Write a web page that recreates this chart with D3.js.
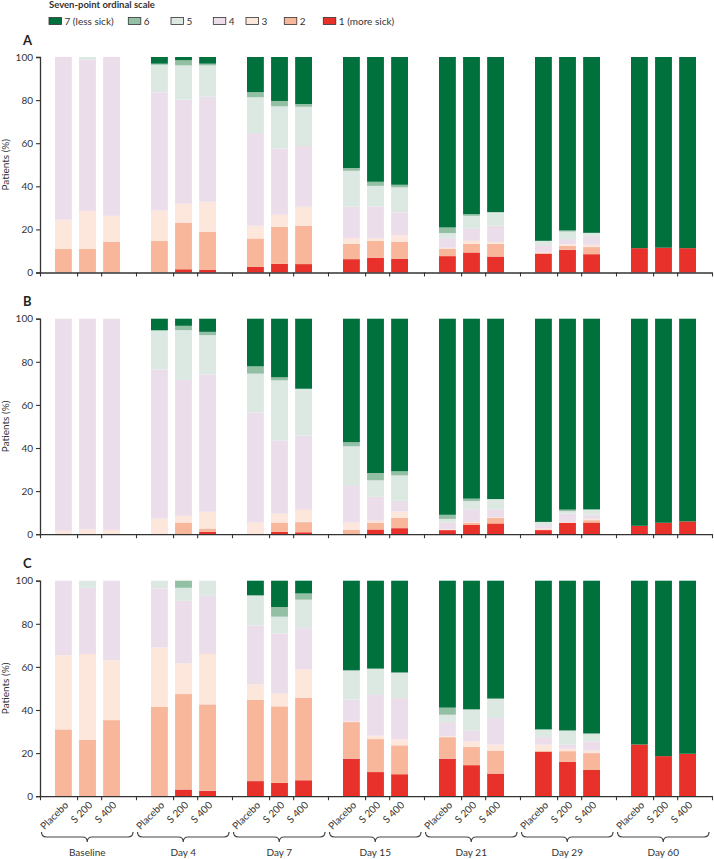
<!DOCTYPE html>
<html>
<head>
<meta charset="utf-8">
<script src="https://cdn.jsdelivr.net/npm/d3@7"></script>
<style>
  body { margin: 0; background: #fff; }
  svg { display: block; }
</style>
</head>
<body>
<script>
// time points and arms
var groups = ["Baseline", "Day 4", "Day 7", "Day 15", "Day 21", "Day 29", "Day 60"];
var treatments = ["Placebo", "S 200", "S 400"];

// ordinal scale, bottom (1) to top (7)
var levelNames = ["1 (more sick)", "2", "3", "4", "5", "6", "7 (less sick)"];
var levelColors = ["#e8312b", "#f8b69b", "#fde6db", "#ebdeea", "#dce8e2", "#93bfa5", "#00703c"];

// % of patients per level [1..7], bars in order group x treatment
var panelA = [
  [0, 11, 13.5, 75.5, 0, 0, 0],
  [0, 11, 17.6, 70.2, 1.2, 0, 0],
  [0, 14.2, 12.1, 73.7, 0, 0, 0],
  [0, 14.7, 14.1, 54.8, 12.8, 0.5, 3.1],
  [1.5, 21.6, 8.8, 48.3, 15.9, 2.4, 1.5],
  [1.2, 17.7, 13.9, 48.8, 14.5, 0.8, 3.1],
  [2.6, 13.2, 5.9, 43, 16.6, 2.4, 16.3],
  [4, 17.2, 5.6, 30.8, 19.5, 2.5, 20.4],
  [3.9, 17.8, 8.8, 28.2, 18.2, 1.3, 21.8],
  [6.2, 7.1, 2.6, 14.6, 16.7, 1.3, 51.5],
  [6.8, 7.9, 1.2, 14.8, 9.5, 1.9, 57.9],
  [6.3, 7.9, 3.1, 10.6, 11.6, 1.2, 59.3],
  [7.6, 3.5, 0.4, 4.4, 2.4, 2.6, 79.1],
  [9.3, 4, 1.4, 5.6, 6, 0.8, 72.9],
  [7.4, 5.9, 0.8, 7.6, 6.3, 0, 72],
  [8.7, 0.3, 0.5, 3.3, 1.9, 0, 85.3],
  [10.5, 1.9, 0.6, 2.5, 3.5, 0.5, 80.5],
  [8.5, 3.3, 1, 4.1, 1.5, 0, 81.6],
  [11.3, 0, 0, 0, 0, 0, 88.7],
  [11.5, 0, 0, 0, 0, 0, 88.5],
  [11.3, 0, 0, 0, 0, 0, 88.7]
];

var panelB = [
  [0, 0, 1.6, 98.4, 0, 0, 0],
  [0, 0, 2.2, 97.8, 0, 0, 0],
  [0, 0, 2, 98, 0, 0, 0],
  [0, 0, 7.3, 69.1, 18, 0.3, 5.3],
  [0, 5.4, 3.1, 63.1, 23.1, 2, 3.3],
  [1.1, 1.5, 7.8, 63.8, 18.2, 1.5, 6.1],
  [0, 0, 5.4, 51, 18.1, 3.4, 22.1],
  [1.1, 4.3, 4.1, 34, 27.9, 1.4, 27.2],
  [0.9, 4.7, 5.7, 34.4, 21.8, 0, 32.5],
  [0, 2, 3.4, 17, 18.4, 1.9, 57.3],
  [2.2, 3.2, 0.8, 11.2, 7.6, 3.4, 71.6],
  [2.8, 4.8, 3, 4.9, 11.8, 1.9, 70.8],
  [1.9, 0, 0.3, 3.1, 1.8, 1.9, 91],
  [4.3, 1, 0.3, 6, 3.8, 1.1, 83.5],
  [5, 2.5, 0.4, 3.7, 4.7, 0, 83.7],
  [1.9, 0.3, 0.4, 1.6, 1.5, 0, 94.3],
  [5.3, 0, 0.3, 3.9, 1.2, 0.7, 88.6],
  [5.4, 1.1, 0.6, 2.1, 2.3, 0, 88.5],
  [3.9, 0, 0, 0, 0, 0, 96.1],
  [5.3, 0, 0, 0, 0, 0, 94.7],
  [5.9, 0, 0, 0, 0, 0, 94.1]
];

var panelC = [
  [0, 31, 34.4, 34.6, 0, 0, 0],
  [0, 26.2, 39.8, 30.7, 3.3, 0, 0],
  [0, 35.3, 27.8, 36.9, 0, 0, 0],
  [0, 41.4, 27.6, 27.4, 3.6, 0, 0],
  [3.1, 44.3, 14.2, 29.1, 6, 3.3, 0],
  [2.5, 40.1, 23.4, 27, 7, 0, 0],
  [7, 37.8, 7, 27.4, 14, 0, 6.8],
  [6.2, 35.5, 5.9, 27.9, 7.8, 4.5, 12.2],
  [7.4, 38.2, 13.2, 19.2, 13.2, 2.9, 5.9],
  [17.4, 17, 0.4, 10, 13.6, 0, 41.6],
  [11.2, 15.3, 1.6, 18.9, 12.2, 0, 40.8],
  [10.2, 13.4, 2.8, 19.2, 11.8, 0, 42.6],
  [17.4, 10, 0.4, 6.6, 3.4, 3.3, 58.9],
  [14.4, 8.4, 2.6, 5, 9.9, 0, 59.7],
  [10.5, 10.7, 2.8, 12.3, 9, 0, 54.7],
  [20.6, 0.4, 2.9, 3.5, 3.6, 0, 69],
  [16, 4.9, 1.1, 1.9, 6.6, 0, 69.5],
  [12.2, 7.8, 1.2, 4.2, 3.7, 0, 70.9],
  [24, 0, 0, 0, 0, 0, 76],
  [18.6, 0, 0, 0, 0, 0, 81.4],
  [19.7, 0, 0, 0, 0, 0, 80.3]
];

var yTicks = [0, 20, 40, 60, 80, 100];

function main() {
  var width = 714, height = 859,
      left = 40, right = 712,
      panelH = 215.5,
      ink = "#333";

  var svg = d3.select("body").append("svg")
      .attr("width", width)
      .attr("height", height)
      .style("font-family", "Lato, 'Open Sans', sans-serif");

  var x0 = d3.scaleBand().domain(groups).range([left, right]);
  var x1 = d3.scaleBand().domain(treatments).range([15, 80]).paddingInner(0.3);

  // ticks: group boundaries plus the in-group ones
  var xTickPos = groups.map(function(g) { return x0(g); }).concat([right]);
  groups.forEach(function(g) {
    xTickPos.push(x0(g) + x1("S 200") - 2);
    xTickPos.push(x0(g) + x1("S 400") - 2);
  });
  var xLin = d3.scaleLinear().domain([left, right]).range([left, right]);

  // legend
  svg.append("text")
     .attr("x", 49).attr("y", 7.5)
     .attr("font-size", "9.5px").attr("font-weight", "bold")
     .attr("fill", ink)
     .text("Seven-point ordinal scale");

  var legendX = [49, 128.3, 171, 213.3, 246, 284.3, 323.3];
  var legendOrder = [6, 5, 4, 3, 2, 1, 0];
  var lg = svg.append("g").selectAll("g")
      .data(legendOrder)
      .enter().append("g")
      .attr("transform", function(d, i) { return "translate(" + legendX[i] + ",0)"; });
  lg.append("rect")
    .attr("x", 0).attr("y", 17.5)
    .attr("width", 12.5).attr("height", 7)
    .attr("fill", function(d) { return levelColors[d]; })
    .attr("stroke", ink).attr("stroke-width", 0.8);
  lg.append("text")
    .attr("x", 15.5).attr("y", 25.3)
    .attr("font-size", "10px").attr("fill", ink)
    .text(function(d) { return levelNames[d]; });

  var panels = [
    { label: "A", data: panelA, top: 57 },
    { label: "B", data: panelB, top: 318.7 },
    { label: "C", data: panelC, top: 580.7 }
  ];

  var y = d3.scaleLinear().domain([0, 100]).range([panelH, 0]);

  panels.forEach(function(p, pi) {
    var g = svg.append("g").attr("transform", "translate(0," + p.top + ")");

    g.append("text")
     .attr("x", 23).attr("y", -12.5)
     .attr("font-size", "13px").attr("font-weight", "bold")
     .attr("fill", "#222")
     .text(p.label);

    var rows = p.data.map(function(v, i) {
      return { group: groups[Math.floor(i / 3)], trt: treatments[i % 3], values: v };
    });
    var series = d3.stack()
        .keys(d3.range(7))
        .value(function(d, k) { return d.values[k]; })(rows);

    g.selectAll(".layer")
     .data(series)
     .enter().append("g")
     .attr("class", "layer")
     .attr("fill", function(s) { return levelColors[s.key]; })
     .selectAll("rect")
     .data(function(s) { return s.filter(function(d) { return d[1] - d[0] > 0; }); })
     .enter().append("rect")
     .attr("x", function(d) { return x0(d.data.group) + x1(d.data.trt); })
     .attr("y", function(d) { return y(d[1]); })
     .attr("width", x1.bandwidth())
     .attr("height", function(d) { return y(d[0]) - y(d[1]); });

    // y axis
    var ya = g.append("g")
      .attr("transform", "translate(" + left + ",0)")
      .call(d3.axisLeft(y).tickValues(yTicks).tickSize(4).tickPadding(3));
    ya.select(".domain").attr("stroke", ink).attr("stroke-width", 1.3);
    ya.selectAll(".tick line").attr("stroke", ink).attr("stroke-width", 1.1);
    ya.selectAll(".tick text").attr("fill", ink).attr("font-size", "10px")
      .style("font-family", "Lato, 'Open Sans', sans-serif");

    g.append("text")
     .attr("transform", "translate(9," + (panelH / 2) + ") rotate(-90)")
     .attr("text-anchor", "middle")
     .attr("font-size", "10px").attr("fill", ink)
     .text("Patients (%)");

    // x axis
    var xa = g.append("g")
      .attr("transform", "translate(0," + panelH + ")")
      .call(d3.axisBottom(xLin).tickValues(xTickPos).tickSize(4).tickSizeOuter(0).tickFormat(""));
    xa.select(".domain").attr("stroke", ink).attr("stroke-width", 1.3);
    xa.selectAll(".tick line").attr("stroke", ink).attr("stroke-width", 1.1);

    if (pi === panels.length - 1) {
      var lab = g.append("g");
      groups.forEach(function(gr) {
        treatments.forEach(function(t) {
          var cx = x0(gr) + x1(t) + x1.bandwidth() / 2 + 5.5;
          lab.append("text")
             .attr("transform", "translate(" + cx + "," + (panelH + 9.5) + ") rotate(-45)")
             .attr("text-anchor", "end")
             .attr("font-size", "10px").attr("fill", ink)
             .text(t);
        });
      });
    }
  });

  // braces and time-point labels
  function brace(xa, xb, yTop, h) {
    var m = (xa + xb) / 2, q = h / 2, c = 5;
    return "M" + xa + "," + yTop +
      " Q" + xa + "," + (yTop + q) + " " + (xa + c) + "," + (yTop + q) +
      " L" + (m - c) + "," + (yTop + q) +
      " Q" + m + "," + (yTop + q) + " " + m + "," + (yTop + h) +
      " Q" + m + "," + (yTop + q) + " " + (m + c) + "," + (yTop + q) +
      " L" + (xb - c) + "," + (yTop + q) +
      " Q" + xb + "," + (yTop + q) + " " + xb + "," + yTop;
  }

  var bg = svg.append("g");
  groups.forEach(function(gr) {
    var a = x0(gr) + 1.5, b = x0(gr) + x0.bandwidth() - 3;
    bg.append("path")
      .attr("d", brace(a, b, 832, 10))
      .attr("fill", "none").attr("stroke", "#444").attr("stroke-width", 1.2);
    bg.append("text")
      .attr("x", (a + b) / 2).attr("y", 856)
      .attr("text-anchor", "middle")
      .attr("font-size", "10px").attr("fill", ink)
      .text(gr);
  });
}

main();
</script>
</body>
</html>
